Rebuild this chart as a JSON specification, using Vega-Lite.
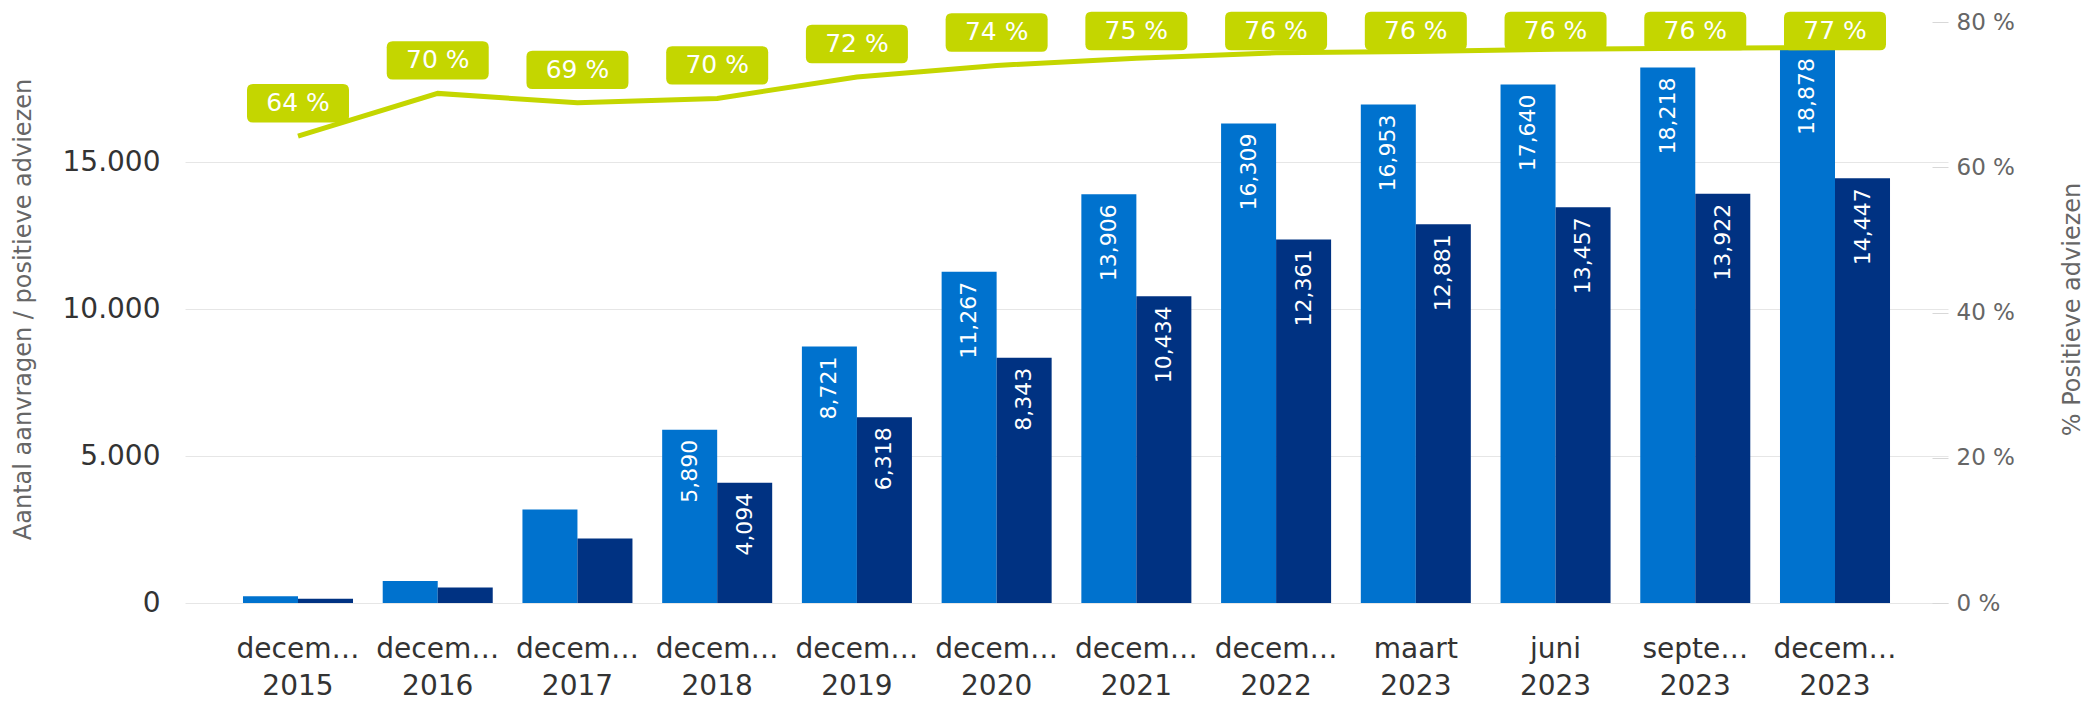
{
  "$schema": "https://vega.github.io/schema/vega-lite/v6.json",
  "autosize": "none",
  "width": 1763,
  "height": 588,
  "padding": {"left": 185, "right": 152, "top": 15, "bottom": 104},
  "background": "white",
  "config": {
    "view": {"stroke": null},
    "font": "DejaVu Sans",
    "text": {"font": "DejaVu Sans"},
    "axis": {"labelFont": "DejaVu Sans", "titleFont": "DejaVu Sans"}
  },
  "data": {
    "values": [
      {"periode": "december 2015", "aanvragen": 230, "positief": 148, "pct": 64.3, "label": "64 %"},
      {"periode": "december 2016", "aanvragen": 750, "positief": 525, "pct": 70.2, "label": "70 %"},
      {"periode": "december 2017", "aanvragen": 3180, "positief": 2190, "pct": 68.9, "label": "69 %"},
      {"periode": "december 2018", "aanvragen": 5890, "positief": 4094, "pct": 69.51, "label": "70 %"},
      {"periode": "december 2019", "aanvragen": 8721, "positief": 6318, "pct": 72.45, "label": "72 %"},
      {"periode": "december 2020", "aanvragen": 11267, "positief": 8343, "pct": 74.05, "label": "74 %"},
      {"periode": "december 2021", "aanvragen": 13906, "positief": 10434, "pct": 75.03, "label": "75 %"},
      {"periode": "december 2022", "aanvragen": 16309, "positief": 12361, "pct": 75.79, "label": "76 %"},
      {"periode": "maart 2023", "aanvragen": 16953, "positief": 12881, "pct": 75.98, "label": "76 %"},
      {"periode": "juni 2023", "aanvragen": 17640, "positief": 13457, "pct": 76.29, "label": "76 %"},
      {"periode": "september 2023", "aanvragen": 18218, "positief": 13922, "pct": 76.42, "label": "76 %"},
      {"periode": "december 2023", "aanvragen": 18878, "positief": 14447, "pct": 76.53, "label": "77 %"}
    ]
  },
  "encoding": {
    "x": {
      "field": "periode",
      "type": "nominal",
      "sort": null,
      "title": null,
      "scale": {"paddingInner": 0.2126, "paddingOuter": 0.415},
      "axis": {
        "labelExpr": "[truncate(split(datum.label, ' ')[0], 6), split(datum.label, ' ')[1]]",
        "labelAngle": 0,
        "labelFontSize": 28,
        "labelColor": "#333333",
        "labelBaseline": "top",
        "labelAlign": "center",
        "labelPadding": 32,
        "labelLineHeight": 37,
        "labelLimit": 0,
        "labelOverlap": false,
        "ticks": false,
        "tickSize": 0,
        "domain": false,
        "grid": false
      }
    }
  },
  "layer": [
    {
      "transform": [{"fold": ["aanvragen", "positief"], "as": ["reeks", "aantal"]}],
      "mark": {"type": "bar"},
      "encoding": {
        "xOffset": {"field": "reeks", "type": "nominal", "sort": ["aanvragen", "positief"]},
        "y": {
          "field": "aantal",
          "type": "quantitative",
          "scale": {"domain": [0, 20000], "nice": false, "zero": true},
          "title": "Aantal aanvragen / positieve adviezen",
          "axis": {
            "orient": "left",
            "values": [0, 5000, 10000, 15000],
            "labelExpr": "replace(format(datum.value, ','), ',', '.')",
            "labelFontSize": 28,
            "labelColor": "#333333",
            "labelPadding": 25,
            "ticks": false,
            "tickSize": 0,
            "domain": false,
            "grid": true,
            "gridColor": "#e6e6e6",
            "gridWidth": 1,
            "titleFontSize": 24,
            "titleFontWeight": "normal",
            "titleColor": "#666666",
            "titleAngle": 270,
            "titleAlign": "center",
            "titleBaseline": "alphabetic",
            "titleX": -155,
            "titleY": 294
          }
        },
        "color": {
          "field": "reeks",
          "type": "nominal",
          "scale": {"domain": ["aanvragen", "positief"], "range": ["#0072CE", "#003282"]},
          "legend": null
        }
      }
    },
    {
      "transform": [
        {"fold": ["aanvragen", "positief"], "as": ["reeks", "aantal"]},
        {"filter": "datum.aantal >= 4000"}
      ],
      "mark": {"type": "text", "angle": 270, "align": "right", "baseline": "middle", "dx": -10, "fontSize": 22, "color": "white"},
      "encoding": {
        "xOffset": {"field": "reeks", "type": "nominal", "sort": ["aanvragen", "positief"]},
        "y": {
          "field": "aantal",
          "type": "quantitative",
          "scale": {"domain": [0, 20000], "nice": false, "zero": true},
          "axis": null
        },
        "text": {"field": "aantal", "type": "quantitative", "format": ",d"}
      }
    },
    {
      "mark": {"type": "line", "color": "#C4D600", "strokeWidth": 5},
      "encoding": {
        "y": {
          "field": "pct",
          "type": "quantitative",
          "scale": {"domain": [0, 81], "nice": false, "zero": false},
          "title": "% Positieve adviezen",
          "axis": {
            "orient": "right",
            "values": [0, 20, 40, 60, 80],
            "labelExpr": "datum.value + ' %'",
            "labelFontSize": 23,
            "labelColor": "#666666",
            "labelPadding": 24,
            "ticks": true,
            "tickSize": -16,
            "tickColor": "#d8d8d8",
            "domain": false,
            "grid": false,
            "titleFontSize": 24,
            "titleFontWeight": "normal",
            "titleColor": "#666666",
            "titleAngle": 270,
            "titleAlign": "center",
            "titleBaseline": "alphabetic",
            "titleX": 131,
            "titleY": 294
          }
        }
      }
    },
    {
      "mark": {
        "type": "point",
        "shape": "M -0.882 -0.3765 L 0.882 -0.3765 Q 1 -0.3765 1 -0.2585 L 1 0.2585 Q 1 0.3765 0.882 0.3765 L -0.882 0.3765 Q -1 0.3765 -1 0.2585 L -1 -0.2585 Q -1 -0.3765 -0.882 -0.3765 Z",
        "size": 10404,
        "filled": true,
        "fill": "#C4D600",
        "opacity": 1,
        "strokeWidth": 0,
        "yOffset": 16
      },
      "encoding": {
        "y": {
          "field": "pct",
          "type": "quantitative",
          "scale": {"domain": [-6.75, 74.25], "nice": false, "zero": false, "clamp": true},
          "axis": null
        }
      }
    },
    {
      "mark": {"type": "text", "align": "center", "baseline": "middle", "fontSize": 25, "color": "white", "yOffset": 16},
      "encoding": {
        "y": {
          "field": "pct",
          "type": "quantitative",
          "scale": {"domain": [-6.75, 74.25], "nice": false, "zero": false, "clamp": true},
          "axis": null
        },
        "text": {"field": "label", "type": "nominal"}
      }
    }
  ],
  "resolve": {"scale": {"y": "independent"}}
}
